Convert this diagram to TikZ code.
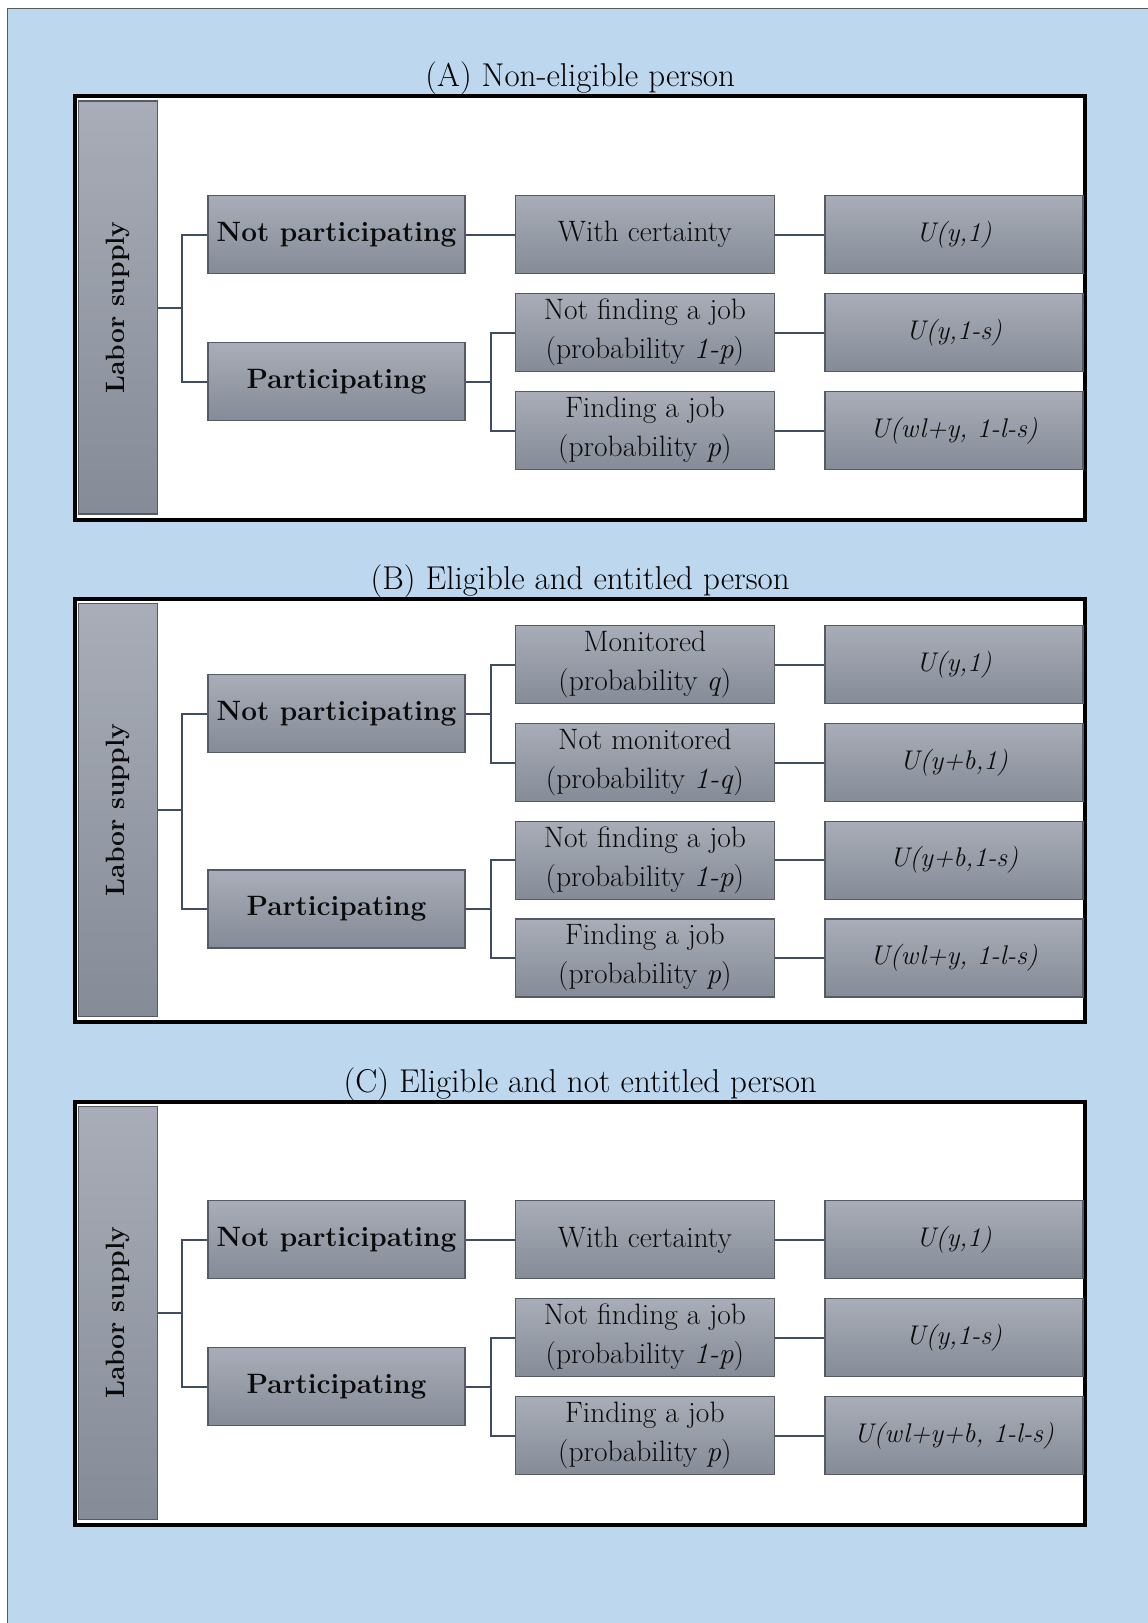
\documentclass[tikz,border=0pt]{standalone}
\usetikzlibrary{shadings}
\definecolor{bgblue}{RGB}{189,215,238}
\definecolor{boxtop}{RGB}{168,173,183}
\definecolor{boxbot}{RGB}{133,139,151}
\definecolor{boxline}{RGB}{85,90,100}
\definecolor{conncol}{RGB}{64,76,96}
\definecolor{txt}{RGB}{10,10,10}
\tikzset{
 box/.style={draw=boxline, line width=1.2pt, top color=boxtop, bottom color=boxbot, minimum height=78pt, inner sep=0pt, align=center, text=txt, font=\fontsize{29.5}{39}\selectfont},
 lone/.style={box, minimum width=257pt, font=\fontsize{28}{39}\selectfont\bfseries},
 ltwo/.style={box, minimum width=259pt},
 lthree/.style={box, minimum width=258pt, font=\fontsize{27}{39}\selectfont\itshape},
 labbar/.style={box, minimum width=79pt, minimum height=413pt},
 bartext/.style={rotate=90, text=txt, font=\fontsize{26.5}{30}\selectfont\bfseries},
 panelframe/.style={draw=black, line width=4pt, fill=white},
 conn/.style={draw=conncol, line width=2pt},
 ttl/.style={anchor=base, font=\fontsize{33}{38}\selectfont, text=black},
}
\begin{document}
\begin{tikzpicture}[x=1pt,y=-1pt]
\useasboundingbox (0,0) rectangle (1148,1623);
\fill[white] (0,0) rectangle (1148,1623);
\fill[bgblue] (7.5,8.5) rectangle (1148,1623);
\draw[gray!70!black, line width=1pt] (7.5,1623) -- (7.5,8.5) -- (1148,8.5);

% ---------- Panel A ----------
\begin{scope}[yshift=-96.3pt]
\node[ttl] (Atitle) at (580.2,-9.5) {(A) Non-eligible person};
\draw[panelframe] (75.3,0) rectangle (1085,423.5);
\node[labbar] (Abar) at (117.8,211.2) {};
\node[bartext] (Alab) at (Abar.center) {Labor supply};
\node[lone] (Anp) at (336.5,138.3) {Not participating};
\node[lone] (Ap) at (336.5,285.3) {Participating};
\node[ltwo] (Am1) at (644.9,138.3) {With certainty};
\node[ltwo] (Am2) at (644.9,236.3) {Not finding a job\\(probability \textit{1-p})};
\node[ltwo] (Am3) at (644.9,334.3) {Finding a job\\(probability \textit{p})};
\node[lthree] (Au1) at (953.9,138.3) {U(y,1)};
\node[lthree] (Au2) at (953.9,236.3) {U(y,1-s)};
\node[lthree] (Au3) at (953.9,334.3) {U(wl+y, 1-l-s)};
\coordinate (Aj1) at (182,211.2);
\coordinate (Aj2) at (491,285.3);
\draw[conn] (Abar.east) -- (Aj1);
\draw[conn] (Anp.west) -| (Aj1) |- (Ap.west);
\draw[conn] (Anp.east) -- (Am1.west);
\draw[conn] (Ap.east) -- (Aj2);
\draw[conn] (Am2.west) -| (Aj2) |- (Am3.west);
\draw[conn] (Am1.east) -- (Au1.west);
\draw[conn] (Am2.east) -- (Au2.west);
\draw[conn] (Am3.east) -- (Au3.west);
\end{scope}

% ---------- Panel B ----------
\begin{scope}[yshift=-598.9pt]
\node[ttl] (Btitle) at (580.2,-9.5) {(B) Eligible and entitled person};
\draw[panelframe] (75.3,0) rectangle (1085,423.5);
\node[labbar] (Bbar) at (117.8,211.2) {};
\node[bartext] (Blab) at (Bbar.center) {Labor supply};
\node[lone] (Bnp) at (336.5,114.75) {Not participating};
\node[lone] (Bp) at (336.5,310.15) {Participating};
\node[ltwo] (Bm1) at (644.9,65.9) {Monitored\\(probability \textit{q})};
\node[ltwo] (Bm2) at (644.9,163.6) {Not monitored\\(probability \textit{1-q})};
\node[ltwo] (Bm3) at (644.9,261.3) {Not finding a job\\(probability \textit{1-p})};
\node[ltwo] (Bm4) at (644.9,359) {Finding a job\\(probability \textit{p})};
\node[lthree] (Bu1) at (953.9,65.9) {U(y,1)};
\node[lthree] (Bu2) at (953.9,163.6) {U(y+b,1)};
\node[lthree] (Bu3) at (953.9,261.3) {U(y+b,1-s)};
\node[lthree] (Bu4) at (953.9,359) {U(wl+y, 1-l-s)};
\coordinate (Bj1) at (182,211.2);
\coordinate (Bj2) at (491,114.75);
\coordinate (Bj3) at (491,310.15);
\draw[conn] (Bbar.east) -- (Bj1);
\draw[conn] (Bnp.west) -| (Bj1) |- (Bp.west);
\draw[conn] (Bnp.east) -- (Bj2);
\draw[conn] (Bm1.west) -| (Bj2) |- (Bm2.west);
\draw[conn] (Bp.east) -- (Bj3);
\draw[conn] (Bm3.west) -| (Bj3) |- (Bm4.west);
\draw[conn] (Bm1.east) -- (Bu1.west);
\draw[conn] (Bm2.east) -- (Bu2.west);
\draw[conn] (Bm3.east) -- (Bu3.west);
\draw[conn] (Bm4.east) -- (Bu4.west);
\end{scope}

% ---------- Panel C ----------
\begin{scope}[yshift=-1101.5pt]
\node[ttl] (Ctitle) at (580.2,-9.5) {(C) Eligible and not entitled person};
\draw[panelframe] (75.3,0) rectangle (1085,423.5);
\node[labbar] (Cbar) at (117.8,211.2) {};
\node[bartext] (Clab) at (Cbar.center) {Labor supply};
\node[lone] (Cnp) at (336.5,138.3) {Not participating};
\node[lone] (Cp) at (336.5,285.3) {Participating};
\node[ltwo] (Cm1) at (644.9,138.3) {With certainty};
\node[ltwo] (Cm2) at (644.9,236.3) {Not finding a job\\(probability \textit{1-p})};
\node[ltwo] (Cm3) at (644.9,334.3) {Finding a job\\(probability \textit{p})};
\node[lthree] (Cu1) at (953.9,138.3) {U(y,1)};
\node[lthree] (Cu2) at (953.9,236.3) {U(y,1-s)};
\node[lthree] (Cu3) at (953.9,334.3) {U(wl+y+b, 1-l-s)};
\coordinate (Cj1) at (182,211.2);
\coordinate (Cj2) at (491,285.3);
\draw[conn] (Cbar.east) -- (Cj1);
\draw[conn] (Cnp.west) -| (Cj1) |- (Cp.west);
\draw[conn] (Cnp.east) -- (Cm1.west);
\draw[conn] (Cp.east) -- (Cj2);
\draw[conn] (Cm2.west) -| (Cj2) |- (Cm3.west);
\draw[conn] (Cm1.east) -- (Cu1.west);
\draw[conn] (Cm2.east) -- (Cu2.west);
\draw[conn] (Cm3.east) -- (Cu3.west);
\end{scope}
\end{tikzpicture}
\end{document}
